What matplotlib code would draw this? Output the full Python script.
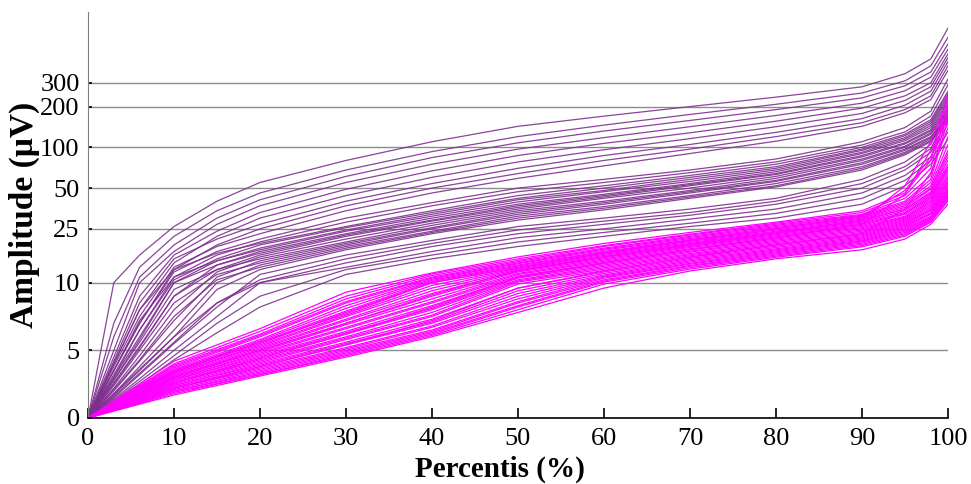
import numpy as np
import matplotlib.pyplot as plt

pct_purple = [0, 3, 6, 10, 15, 20, 30, 40, 50, 60, 70, 80, 90, 95, 98, 100]
pct_magenta = [0, 10, 20, 30, 40, 50, 60, 70, 80, 90, 95, 98, 100]

purple_curves = [
    [0, 10, 16, 26, 40, 55, 80, 110, 143, 170, 200, 235, 280, 350, 450, 760],
    [0, 7, 13, 22, 34, 46, 68, 93, 120, 146, 175, 208, 252, 310, 400, 650],
    [0, 6, 11, 19, 30, 41, 61, 84, 108, 132, 158, 190, 232, 285, 360, 580],
    [0, 5, 10, 17, 27, 37, 55, 75, 97, 118, 142, 172, 212, 262, 330, 530],
    [0, 4.5, 9, 16, 24, 33, 49, 67, 87, 107, 128, 156, 195, 240, 300, 490],
    [0, 4, 8, 14, 22, 30, 44, 60, 78, 96, 116, 142, 178, 222, 280, 460],
    [0, 4.2, 8.5, 15, 21, 27, 40, 54, 70, 87, 105, 129, 163, 205, 260, 430],
    [0, 3.5, 7, 12.5, 19, 25, 37, 50, 64, 80, 97, 120, 152, 190, 240, 400],
    [0, 3.8, 7.5, 13, 18.5, 23, 34, 46, 59, 73, 90, 111, 143, 180, 225, 370],
    [0, 3.5, 7, 12, 17, 21, 30, 39, 50, 58, 68, 82, 110, 140, 185, 320],
    [0, 3, 6.5, 11, 16, 20, 28, 37, 47, 55, 65, 78, 104, 130, 170, 290],
    [0, 4, 8, 12.5, 16.5, 19.5, 26, 34, 44, 52, 62, 75, 100, 125, 160, 260],
    [0, 3.2, 6.5, 10.5, 15, 19, 25.5, 33, 42, 50, 60, 72, 97, 122, 155, 250],
    [0, 2.8, 5.8, 10, 14.5, 18, 24.5, 32, 41, 48, 58, 70, 95, 118, 150, 240],
    [0, 3.5, 7.2, 11, 14.5, 17.5, 24, 31, 39.5, 47, 56, 68, 92, 115, 145, 230],
    [0, 2.5, 5.2, 9, 13.5, 17, 23, 30, 38, 45, 54, 66, 90, 112, 140, 220],
    [0, 3, 6, 10, 13.5, 16.5, 22.5, 29, 37, 44, 53, 64, 87, 108, 135, 210],
    [0, 2.6, 5.3, 9, 12.5, 16, 22, 28.5, 36, 43, 52, 63, 85, 106, 132, 200],
    [0, 2.2, 4.6, 8, 12, 15.5, 21, 27.5, 35, 42, 50, 61, 82, 102, 128, 190],
    [0, 2.8, 5.6, 9.5, 12.5, 15, 20, 26.5, 34, 40, 48, 59, 80, 100, 125, 185],
    [0, 2, 4.2, 7.2, 11, 14.5, 19.5, 25.5, 33, 39, 47, 57, 77, 97, 120, 175],
    [0, 2.4, 5, 8.5, 11.5, 14, 19, 25, 32, 38, 46, 56, 75, 95, 118, 170],
    [0, 1.8, 3.8, 6.5, 10, 13.5, 18.5, 24, 31, 36.5, 44, 54, 72, 92, 115, 165],
    [0, 2.1, 4.3, 7.5, 10.5, 13, 18, 23.5, 30, 35.5, 43, 52, 70, 90, 112, 160],
    [0, 1.7, 3.5, 6, 9.5, 12.5, 17.5, 23, 29, 34.5, 42, 51, 68, 88, 110, 155],
    [0, 1.5, 3.2, 5.5, 8.2, 11.5, 16, 20.5, 26, 30, 35, 42, 58, 78, 105, 200],
    [0, 1.6, 3.3, 5.6, 8.5, 10.5, 15, 19.5, 24.5, 28.5, 33, 40, 54, 72, 98, 180],
    [0, 1.4, 2.9, 5, 7.5, 10, 14, 18.5, 23, 27, 31.5, 38, 50, 68, 92, 165],
    [0, 1.8, 3.6, 6, 8.5, 10, 13, 17, 21.5, 25, 29.5, 35, 46, 62, 85, 150],
    [0, 1.3, 2.7, 4.6, 7, 9, 12.5, 16, 20, 23.5, 27.5, 32.5, 42, 57, 80, 130],
    [0, 1.2, 2.5, 4.3, 6.3, 8.2, 11.5, 15, 18.5, 22, 26, 30, 38, 52, 75, 115],
]

magenta_curves = [
    [0, 4.2, 6.6, 9.3, 11.8, 15.5, 19.5, 23.5, 28, 34, 46, 80, 250],
    [0, 4.0, 6.4, 9.0, 11.6, 15.0, 18.8, 22.8, 27.5, 33, 44, 70, 210],
    [0, 3.9, 6.2, 8.8, 11.3, 14.6, 18.5, 22.5, 27, 32, 42, 62, 180],
    [0, 3.8, 6.1, 8.6, 11.0, 14.3, 18.0, 22, 26.5, 31.5, 40, 58, 160],
    [0, 3.7, 6.0, 8.5, 10.8, 14.0, 17.7, 21.6, 26, 31, 39, 55, 120],
    [0, 3.6, 5.8, 8.3, 10.6, 13.8, 17.4, 21.2, 25.5, 30.5, 38, 52, 105],
    [0, 3.5, 5.7, 8.1, 10.4, 13.5, 17.0, 20.8, 25, 30, 37, 50, 95],
    [0, 3.5, 5.6, 7.9, 10.2, 13.3, 16.8, 20.5, 24.5, 29.5, 36, 49, 90],
    [0, 3.4, 5.5, 7.8, 10.0, 13.0, 16.5, 20.2, 24, 29, 35, 47, 85],
    [0, 3.3, 5.4, 7.6, 9.8, 12.8, 16.2, 19.8, 23.7, 28.5, 35, 46, 80],
    [0, 3.3, 5.3, 7.5, 9.6, 12.6, 15.9, 19.5, 23.4, 28, 34, 45, 75],
    [0, 3.2, 5.2, 7.3, 9.4, 12.4, 15.6, 19.2, 23, 27.5, 33, 44, 72],
    [0, 3.1, 5.1, 7.2, 9.2, 12.2, 15.3, 18.8, 22.6, 27, 32.5, 43, 70],
    [0, 3.1, 5.0, 7.0, 9.0, 12.0, 15.0, 18.5, 22.2, 26.5, 32, 42, 68],
    [0, 3.0, 4.9, 6.9, 8.8, 11.7, 14.7, 18.2, 21.8, 26, 31, 41, 65],
    [0, 2.9, 4.8, 6.7, 8.6, 11.5, 14.4, 17.8, 21.4, 25.5, 30.5, 40, 62],
    [0, 2.9, 4.7, 6.6, 8.5, 11.2, 14.1, 17.5, 21, 25, 30, 39, 60],
    [0, 2.8, 4.6, 6.4, 8.3, 11.0, 13.8, 17.1, 20.6, 24.5, 29.5, 38, 58],
    [0, 2.8, 4.5, 6.3, 8.1, 10.8, 13.5, 16.8, 20.2, 24, 29, 37, 56],
    [0, 2.7, 4.4, 6.2, 8.0, 10.5, 13.2, 16.4, 19.8, 23.5, 28.5, 36, 55],
    [0, 2.6, 4.3, 6.0, 7.8, 10.3, 12.9, 16.1, 19.4, 23, 28, 35, 53],
    [0, 2.6, 4.2, 5.9, 7.6, 10.1, 12.6, 15.8, 19, 22.6, 27.5, 34.5, 52],
    [0, 2.5, 4.1, 5.8, 7.5, 9.9, 12.3, 15.4, 18.6, 22.2, 27, 34, 50],
    [0, 2.4, 4.0, 5.6, 7.3, 9.6, 12.0, 15.1, 18.2, 21.8, 26.5, 33, 49],
    [0, 2.4, 3.9, 5.5, 7.1, 9.4, 11.7, 14.8, 17.8, 21.4, 26, 32.5, 48],
    [0, 2.3, 3.8, 5.4, 7.0, 9.2, 11.4, 14.5, 17.5, 21, 25.5, 32, 47],
    [0, 2.2, 3.7, 5.2, 6.8, 9.0, 11.2, 14.2, 17.2, 20.6, 25, 31, 46],
    [0, 2.2, 3.6, 5.1, 6.7, 8.8, 11.0, 13.9, 16.9, 20.3, 24.5, 30.5, 45],
    [0, 2.1, 3.5, 5.0, 6.5, 8.6, 10.8, 13.7, 16.6, 20, 24, 30, 44],
    [0, 2.0, 3.4, 4.9, 6.4, 8.5, 10.5, 13.4, 16.3, 19.6, 23.5, 29.5, 43],
    [0, 2.0, 3.3, 4.8, 6.3, 8.3, 10.3, 13.2, 16, 19.2, 23, 29, 42],
    [0, 1.9, 3.2, 4.7, 6.2, 8.2, 10.1, 12.9, 15.7, 18.8, 22.5, 28.5, 41],
    [0, 1.8, 3.2, 4.6, 6.1, 8.0, 9.9, 12.6, 15.4, 18.4, 22, 28, 40],
    [0, 1.7, 3.1, 4.5, 6.0, 7.8, 9.6, 12.2, 15, 17.5, 21, 27, 38],
    [0, 3.0, 5.0, 7.0, 9.1, 12.3, 15.5, 19, 23, 29, 52, 110, 230],
    [0, 2.6, 4.4, 6.2, 8.2, 11, 14, 17.5, 21.5, 27, 45, 95, 190],
    [0, 3.4, 5.6, 7.7, 10, 13, 16.5, 20.5, 25, 31, 48, 85, 170],
    [0, 2.2, 3.8, 5.4, 7.2, 9.6, 12.2, 15.5, 19, 23, 35, 65, 140],
]

ytick_vals = [0, 5, 10, 25, 50, 100, 200, 300]
xtick_vals = [0, 10, 20, 30, 40, 50, 60, 70, 80, 90, 100]

plt.rcParams['font.family'] = ['Liberation Serif', 'DejaVu Serif']

fig = plt.figure(figsize=(9.71, 4.84), dpi=100)
ax = fig.add_axes([88/971, 1 - 418/484, 860/971, 406/484])

for c in purple_curves:
    ax.plot(pct_purple, c, color='#7E2F8E', lw=0.9, alpha=0.9)
for c in magenta_curves:
    ax.plot(pct_magenta, c, color='#FF00FF', lw=0.9)

ax.set_yscale('symlog', linthresh=10, linscale=0.9)
ax.set_ylim(0, 1000)
ax.set_xlim(0, 100)
ax.set_yticks(ytick_vals)
ax.set_yticklabels([str(v) for v in ytick_vals])
ax.yaxis.set_minor_locator(plt.NullLocator())
ax.set_xticks(xtick_vals)
ax.tick_params(axis='x', direction='in', length=7, width=1.2, labelsize=19, pad=7)
ax.tick_params(axis='y', direction='in', length=3, width=1.2, labelsize=19, pad=6)

for v in ytick_vals[1:]:
    ax.axhline(v, color='#8c8c8c', lw=1, zorder=0)

ax.spines['top'].set_visible(False)
ax.spines['right'].set_visible(False)
ax.spines['left'].set_color('#7f7f7f')
ax.spines['bottom'].set_color('black')
ax.spines['bottom'].set_linewidth(1.2)

ax.set_ylabel('Amplitude (\u03bcV)', fontsize=24, fontweight='bold')
ax.set_xlabel('Percentis (%)', fontsize=21, fontweight='bold')
ax.yaxis.set_label_coords(-0.056, 0.5)
ax.xaxis.set_label_coords(0.479, -0.094)

fig.savefig('out.png', dpi=100)
